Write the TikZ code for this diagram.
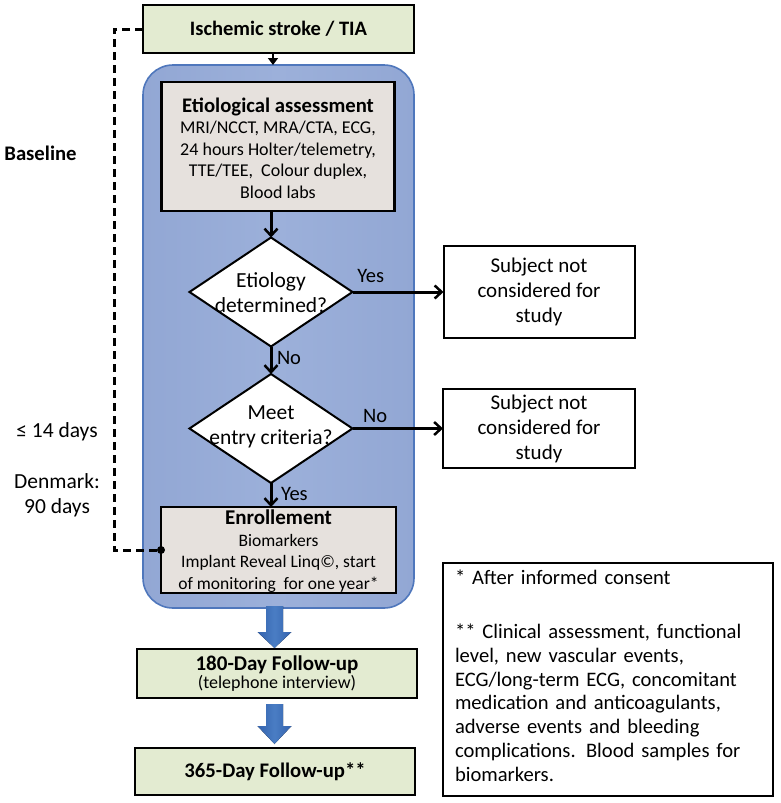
\documentclass[tikz,border=0pt]{standalone}
\usepackage{fontspec}
\setmainfont{Carlito}
\usetikzlibrary{shapes.geometric,arrows.meta,calc}
\definecolor{boxgreen}{HTML}{E3EBD1}
\definecolor{boxgrey}{HTML}{E6E1DD}
\definecolor{bgblue}{HTML}{92A7D4}
\definecolor{bgbluelight}{HTML}{9CB0DA}
\definecolor{bgbluedraw}{HTML}{4F77BC}
\definecolor{arrdark}{HTML}{3463AE}
\definecolor{arrlight}{HTML}{4A7DC4}
\tikzset{
  every node/.style={inner sep=0pt, outer sep=0pt},
  txt/.style={font=\fontsize{18}{21.5}\selectfont, align=center},
  greenbox/.style={draw=black, line width=2.2pt, fill=boxgreen},
  greybox/.style={draw=black, line width=2.2pt, fill=boxgrey},
  whitebox/.style={draw=black, line width=2pt, fill=white},
  dia/.style={diamond, draw=black, line width=2pt, fill=white, minimum width=163pt, minimum height=109pt},
  diatxt/.style={align=center, font=\fontsize{21.5}{25}\selectfont},
  conn/.style={line width=3pt, -{Straight Barb[length=7pt,width=13pt,line width=2.5pt]}},
  dashline/.style={line width=3pt, dash pattern=on 8pt off 5pt},
  lbl/.style={font=\fontsize{20.5}{25}\selectfont},
  blockarrow/.style={left color=arrdark, right color=arrdark, middle color=arrlight, draw=none}
}
\begin{document}
\begin{tikzpicture}[x=1pt,y=-1pt]
\useasboundingbox (0,0) rectangle (780,803);

% blue background
\node[draw=bgbluedraw, line width=1.6pt, left color=bgblue, right color=bgblue, middle color=bgbluelight, rounded corners=30pt, minimum width=271pt, minimum height=543pt] (blue) at (278.5,336.5) {};

% top box
\node[greenbox, minimum width=271pt, minimum height=48pt, align=center, font=\bfseries\fontsize{20.5}{24}\selectfont] (top) at (278.5,29) {Ischemic stroke / TIA};

% etiological assessment
\node[greybox, minimum width=233pt, minimum height=129pt] (etio) at (278,146.5) {};
\node[txt] (etiotxt) at (278,148) {{\bfseries\fontsize{20.7}{23}\selectfont Etiological assessment}\\MRI/NCCT, MRA/CTA, ECG,\\24 hours Holter/telemetry,\\TTE/TEE,\ \ Colour duplex,\\Blood labs};

% diamonds
\node[dia] (d1) at (271,292) {};
\node[diatxt] (d1t) at (271,293) {Etiology\\determined?};
\node[dia] (d2) at (271,428.5) {};
\node[diatxt] (d2t) at (271,427) {Meet\\entry criteria?};

% enrollment
\node[greybox, minimum width=235pt, minimum height=86pt] (enroll) at (278.5,550) {};
\node[txt, font=\fontsize{17.5}{21.5}\selectfont] (enrolltxt) at (278.5,551) {{\bfseries\fontsize{21}{23}\selectfont Enrollement}\\Biomarkers\\Implant Reveal Linq©, start\\of monitoring\ \ for one year*};

% right boxes
\node[whitebox, minimum width=191pt, minimum height=92pt, align=center, font=\fontsize{21}{25}\selectfont] (nc1) at (539,292) {Subject not\\considered for\\study};
\node[whitebox, minimum width=192pt, minimum height=79pt, align=center, font=\fontsize{21}{25}\selectfont] (nc2) at (539,428.5) {Subject not\\considered for\\study};

% follow-ups
\node[greenbox, minimum width=280pt, minimum height=49pt, align=center] (fu1) at (277,673.5) {{\bfseries\fontsize{21}{24}\selectfont 180-Day Follow-up}\\{\fontsize{18}{20}\selectfont (telephone interview)}};
\node[greenbox, minimum width=280pt, minimum height=47pt, align=center, font=\bfseries\fontsize{20.7}{24}\selectfont] (fu2) at (275,771.5) {365-Day Follow-up**};

% notes
\node[whitebox, minimum width=330pt, minimum height=233pt] (notes) at (608,679.5) {};
\node[anchor=north west, text width=315pt, align=left, font=\fontsize{20.6}{23.8}\selectfont] (notestxt) at ($(notes.north west)+(12,7)$) {* After informed consent\\[30pt]** Clinical assessment, functional\\level, new vascular events,\\ECG/long-term ECG, concomitant\\medication and anticoagulants,\\adverse events and bleeding\\complications. Blood samples for\\biomarkers.};

% left labels
\node[font=\bfseries\fontsize{20.7}{25}\selectfont] (baseline) at (40.5,153) {Baseline};
\node[lbl, font=\fontsize{21.5}{25}\selectfont] (d14) at (57,432) {≤ 14 days};
\node[align=center, font=\fontsize{21.5}{25}\selectfont] (dk) at (57,495) {Denmark:\\90 days};

% connectors
\draw[line width=2pt, -{Triangle[length=7pt,width=10pt]}] ([xshift=-5.5pt]top.south) -- ([xshift=-5.5pt]blue.north);
\draw[conn] (d1.north |- etio.south) -- (d1.north);
\draw[conn] (d1.south) -- (d2.north) node[pos=0.4, right=6pt, lbl] (no1) {No};
\draw[conn] (d2.south) -- (d2.south |- enroll.north) node[pos=0.45, right=10pt, lbl] (yes2) {Yes};
\draw[conn] (d1.east) -- (nc1.west) node[pos=0.2, above=9pt, lbl] (yes1) {Yes};
\draw[conn] (d2.east) -- (nc2.west) node[pos=0.25, above=6pt, lbl] (no2) {No};

% dashed
\draw[dashline] (top.west) -- ++(-29,0) |- (enroll.west);
\fill (enroll.west) circle (4pt);

% block arrows
\coordinate (ax) at (274.5,0);
\fill[blockarrow] ($(ax |- blue.south)+(-8.5,-2)$) -- ($(ax |- fu1.north)+(-8.5,-17)$) -- ($(ax |- fu1.north)+(-17,-17)$) -- ($(ax |- fu1.north)+(0,-1)$) -- ($(ax |- fu1.north)+(17,-17)$) -- ($(ax |- fu1.north)+(8.5,-17)$) -- ($(ax |- blue.south)+(8.5,-2)$) -- cycle;
\fill[blockarrow] ($(ax |- fu1.south)+(-8.5,6)$) -- ($(ax |- fu2.north)+(-8.5,-22)$) -- ($(ax |- fu2.north)+(-17,-22)$) -- ($(ax |- fu2.north)+(0,-4)$) -- ($(ax |- fu2.north)+(17,-22)$) -- ($(ax |- fu2.north)+(8.5,-22)$) -- ($(ax |- fu1.south)+(8.5,6)$) -- cycle;
\end{tikzpicture}
\end{document}
